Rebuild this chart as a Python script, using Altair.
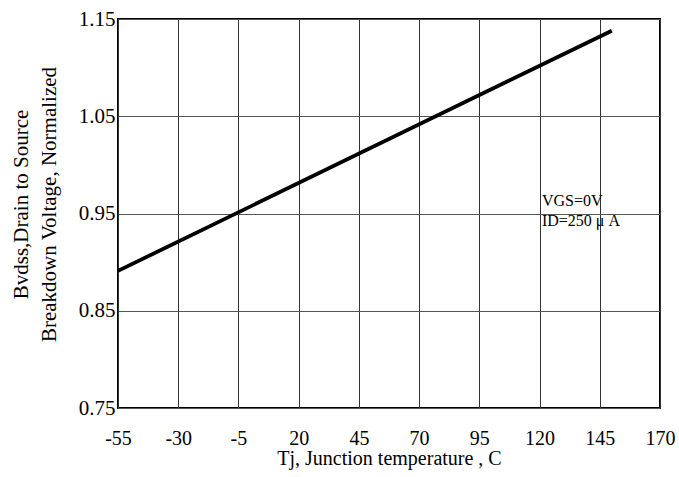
import altair as alt
import pandas as pd

# Data
temps = [-55, 150]
bvdss = [0.891, 1.138]
x_ticks = [-55, -30, -5, 20, 45, 70, 95, 120, 145, 170]
y_ticks = [0.75, 0.85, 0.95, 1.05, 1.15]
notes = ["VGS=0V", "ID=250 μ A"]
note_x = [121, 121]
note_y = [0.963, 0.942]

FONT = "Liberation Serif"

line_df = pd.DataFrame({"t": temps, "v": bvdss})
note_df = pd.DataFrame({"t": note_x, "v": note_y, "label": notes})

xs = alt.Scale(domain=[-55, 170], nice=False, zero=False)
ys = alt.Scale(domain=[0.75, 1.15], nice=False, zero=False)

x_axis = alt.Axis(
    values=x_ticks, labelExpr="toString(datum.value)",
    title="Tj, Junction temperature , C",
    labelFont=FONT, labelFontSize=20, labelColor="black", labelPadding=20,
    tickSize=0, domain=False,
    grid=True, gridColor="#333333", gridWidth=1,
    titleFont=FONT, titleFontSize=20, titleFontWeight="normal", titleColor="black",
    titleY=50, titleBaseline="middle", labelFlush=False,
)
y_axis = alt.Axis(
    values=y_ticks, format=".2f",
    title=["Bvdss,Drain to Source", "Breakdown Voltage, Normalized"],
    labelFont=FONT, labelFontSize=21, labelColor="black", labelPadding=3,
    tickSize=0, domain=False,
    grid=True, gridColor="#555555", gridWidth=1,
    titleFont=FONT, titleFontSize=21, titleFontWeight="normal", titleColor="black",
    titleX=-97, titleY=185, titleBaseline="middle", titleAlign="center",
    titleLineHeight=28, labelFlush=False,
)

line = alt.Chart(line_df).mark_line(color="black", strokeWidth=3.8).encode(
    x=alt.X("t:Q", scale=xs, axis=x_axis),
    y=alt.Y("v:Q", scale=ys, axis=y_axis),
)

text = alt.Chart(note_df).mark_text(
    font=FONT, fontSize=16, align="left", baseline="middle", color="black"
).encode(
    x=alt.X("t:Q", scale=xs),
    y=alt.Y("v:Q", scale=ys),
    text="label:N",
)

chart = (line + text).properties(
    width=542, height=389,
    autosize=alt.AutoSizeParams(type="none"),
    padding={"left": 118, "top": 19, "right": 19, "bottom": 69},
    background="white",
).configure_view(stroke="black", strokeWidth=2)

chart.save("out.html", embed_options={"renderer": "svg", "actions": False})
